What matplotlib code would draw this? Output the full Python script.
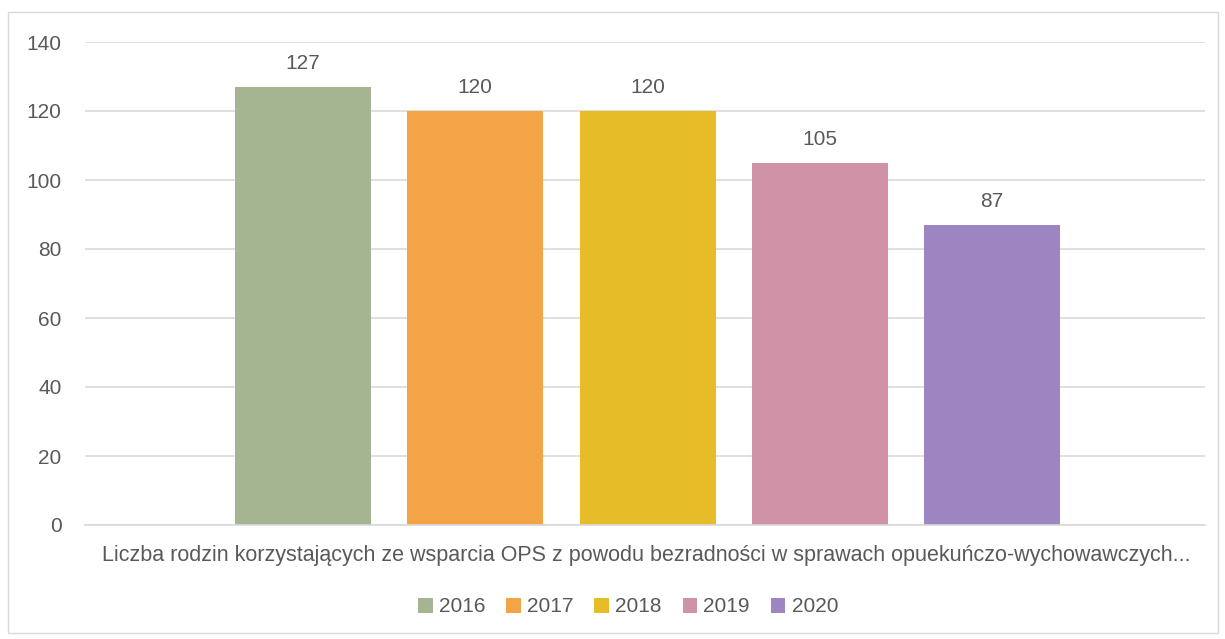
import matplotlib.pyplot as plt
from matplotlib.patches import Rectangle, Patch

years = ["2016", "2017", "2018", "2019", "2020"]
values = [127, 120, 120, 105, 87]
colors = ["#a5b592", "#f3a447", "#e7bc29", "#d092a7", "#9c85c0"]
category = "Liczba rodzin korzystających ze wsparcia OPS z powodu bezradności w sprawach opuekuńczo-wychowawczych..."
yticks = [0, 20, 40, 60, 80, 100, 120, 140]

TXT = "#595959"
plt.rcParams['font.family'] = ['Liberation Sans', 'DejaVu Sans']

fig = plt.figure(figsize=(12.25, 6.39), dpi=100)
# ramka wokol calego wykresu
fig.patches.append(Rectangle((8 / 1225, 1 - 633 / 639), 1210 / 1225, 621 / 639,
                             transform=fig.transFigure, fill=False,
                             edgecolor="#d9d9d9", linewidth=1))

ax = fig.add_axes([85 / 1225, 1 - 525 / 639, 1120 / 1225, 483 / 639])
x = list(range(len(years)))
bars = ax.bar(x, values, width=0.79, color=colors, zorder=2)
for b, v in zip(bars, values):
    ax.text(b.get_x() + b.get_width() / 2, v + 4, str(v), ha="center", va="bottom",
            fontsize=15, color=TXT)

ax.set_xlim(-1.265, 5.235)
ax.set_ylim(0, 140)
ax.set_yticks(yticks)
ax.yaxis.grid(True, color="#d9d9d9", linewidth=1.2, zorder=0)
ax.set_xticks([])
for s in ["top", "right", "left"]:
    ax.spines[s].set_visible(False)
ax.spines["bottom"].set_color("#d9d9d9")
ax.spines["bottom"].set_linewidth(1.2)
ax.tick_params(axis="y", length=0, labelsize=15, labelcolor=TXT, pad=17)

fig.text(646 / 1225, 1 - 556 / 639, category, ha="center", va="center",
         fontsize=15.5, color=TXT)

handles = [Patch(facecolor=c) for c in colors]
fig.legend(handles, years, loc="center", bbox_to_anchor=(628 / 1225, 1 - 607 / 639),
           ncol=5, frameon=False, fontsize=15, labelcolor=TXT,
           handlelength=0.7, handleheight=0.7, handletextpad=0.3, columnspacing=1.0)

fig.savefig("out.png", dpi=100)
